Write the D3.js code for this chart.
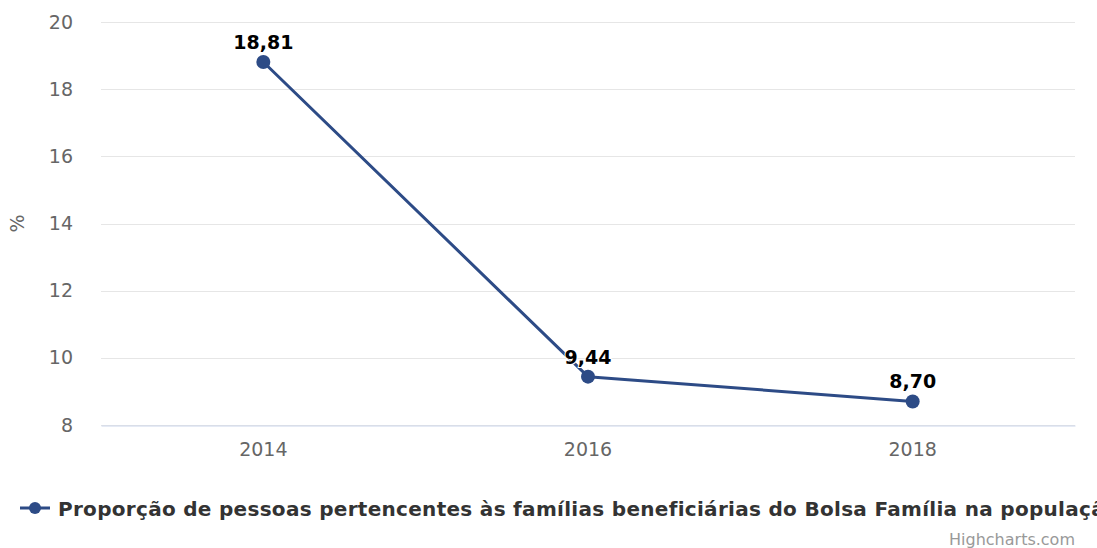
<!DOCTYPE html>
<html>
<head>
<meta charset="utf-8">
<script src="https://cdn.jsdelivr.net/npm/d3@7"></script>
<style>
  body { margin: 0; background: #fff; overflow: hidden; }
  svg { display: block; font-family: "DejaVu Sans", Verdana, sans-serif; }
</style>
</head>
<body>
<svg></svg>
<script>
// anos e valores (%)
const anos = ["2014", "2016", "2018"];
const valores = [18.81, 9.44, 8.70];
const yTicks = [8, 10, 12, 14, 16, 18, 20];
const serieNome = "Proporção de pessoas pertencentes às famílias beneficiárias do Bolsa Família na população";

var svgWidth = 1097,
    svgHeight = 548;

var margin = { top: 22, right: 22, bottom: 123, left: 101 };
var width = svgWidth - margin.left - margin.right;
var height = svgHeight - margin.top - margin.bottom;

var svg = d3.select("svg")
    .attr("width", svgWidth)
    .attr("height", svgHeight);

var g = svg.append("g")
    .attr("transform", "translate(" + margin.left + "," + margin.top + ")");

//x scale by category
var x = d3.scaleBand()
    .domain(anos)
    .range([0, width]);

//y scale
var y = d3.scaleLinear()
    .domain([8, 20])
    .range([height, 0]);

//gridlines
g.append("g")
    .selectAll("line")
    .data(yTicks)
    .enter()
    .append("line")
    .attr("x1", 0)
    .attr("x2", width)
    .attr("y1", d => Math.round(y(d)) + 0.5)
    .attr("y2", d => Math.round(y(d)) + 0.5)
    .attr("stroke", "#e6e6e6")
    .attr("stroke-width", 1);

//y axis labels
var yAxis = d3.axisLeft(y)
    .tickValues(yTicks)
    .tickSize(0)
    .tickPadding(28);

g.append("g")
    .call(yAxis)
    .call(s => s.select(".domain").remove())
    .selectAll("text")
    .attr("font-size", 19)
    .attr("font-family", "DejaVu Sans, sans-serif")
    .attr("fill", "#666");

//x axis
var xAxis = d3.axisBottom(x)
    .tickSize(0)
    .tickPadding(17);

var xg = g.append("g")
    .attr("transform", "translate(0," + (Math.round(height) + 0.5) + ")")
    .call(xAxis);

xg.select(".domain")
    .attr("stroke", "#ccd6eb");

xg.selectAll("text")
    .attr("font-size", 19)
    .attr("font-family", "DejaVu Sans, sans-serif")
    .attr("fill", "#666");

//y axis title
svg.append("text")
    .attr("transform", "translate(24," + (margin.top + height / 2) + ") rotate(-90)")
    .attr("text-anchor", "middle")
    .attr("font-size", 19)
    .attr("fill", "#666")
    .text("%");

var pts = anos.map((a, i) => ({ ano: a, valor: valores[i] }));

var cx = d => x(d.ano) + x.bandwidth() / 2;

//line
var line = d3.line()
    .x(cx)
    .y(d => y(d.valor));

g.append("path")
    .datum(pts)
    .attr("fill", "none")
    .attr("stroke", "#2d4b86")
    .attr("stroke-width", 3)
    .attr("stroke-linejoin", "round")
    .attr("stroke-linecap", "round")
    .attr("d", line);

g.selectAll("circle.pt")
    .data(pts)
    .enter()
    .append("circle")
    .attr("class", "pt")
    .attr("cx", cx)
    .attr("cy", d => y(d.valor))
    .attr("r", 7)
    .attr("fill", "#2d4b86");

//data labels
g.selectAll("text.lbl")
    .data(pts)
    .enter()
    .append("text")
    .attr("class", "lbl")
    .attr("x", cx)
    .attr("y", d => y(d.valor) - 13)
    .attr("text-anchor", "middle")
    .attr("font-size", 19)
    .attr("font-weight", "bold")
    .attr("fill", "#000")
    .attr("stroke", "#fff")
    .attr("stroke-width", 2)
    .attr("paint-order", "stroke")
    .text(d => d.valor.toFixed(2).replace(".", ","));

//legend
var leg = svg.append("g")
    .attr("transform", "translate(20,508)");

leg.append("line")
    .attr("x1", 0)
    .attr("x2", 30)
    .attr("y1", 0)
    .attr("y2", 0)
    .attr("stroke", "#2d4b86")
    .attr("stroke-width", 3);

leg.append("circle")
    .attr("cx", 15)
    .attr("cy", 0)
    .attr("r", 6)
    .attr("fill", "#2d4b86");

leg.append("text")
    .attr("x", 38)
    .attr("y", 8)
    .attr("font-size", 20)
    .attr("font-weight", "bold")
    .attr("letter-spacing", 0.3)
    .attr("fill", "#333")
    .text(serieNome);

//credits
svg.append("text")
    .attr("x", 1075)
    .attr("y", 545)
    .attr("text-anchor", "end")
    .attr("font-size", 16)
    .attr("fill", "#999")
    .text("Highcharts.com");
</script>
</body>
</html>
